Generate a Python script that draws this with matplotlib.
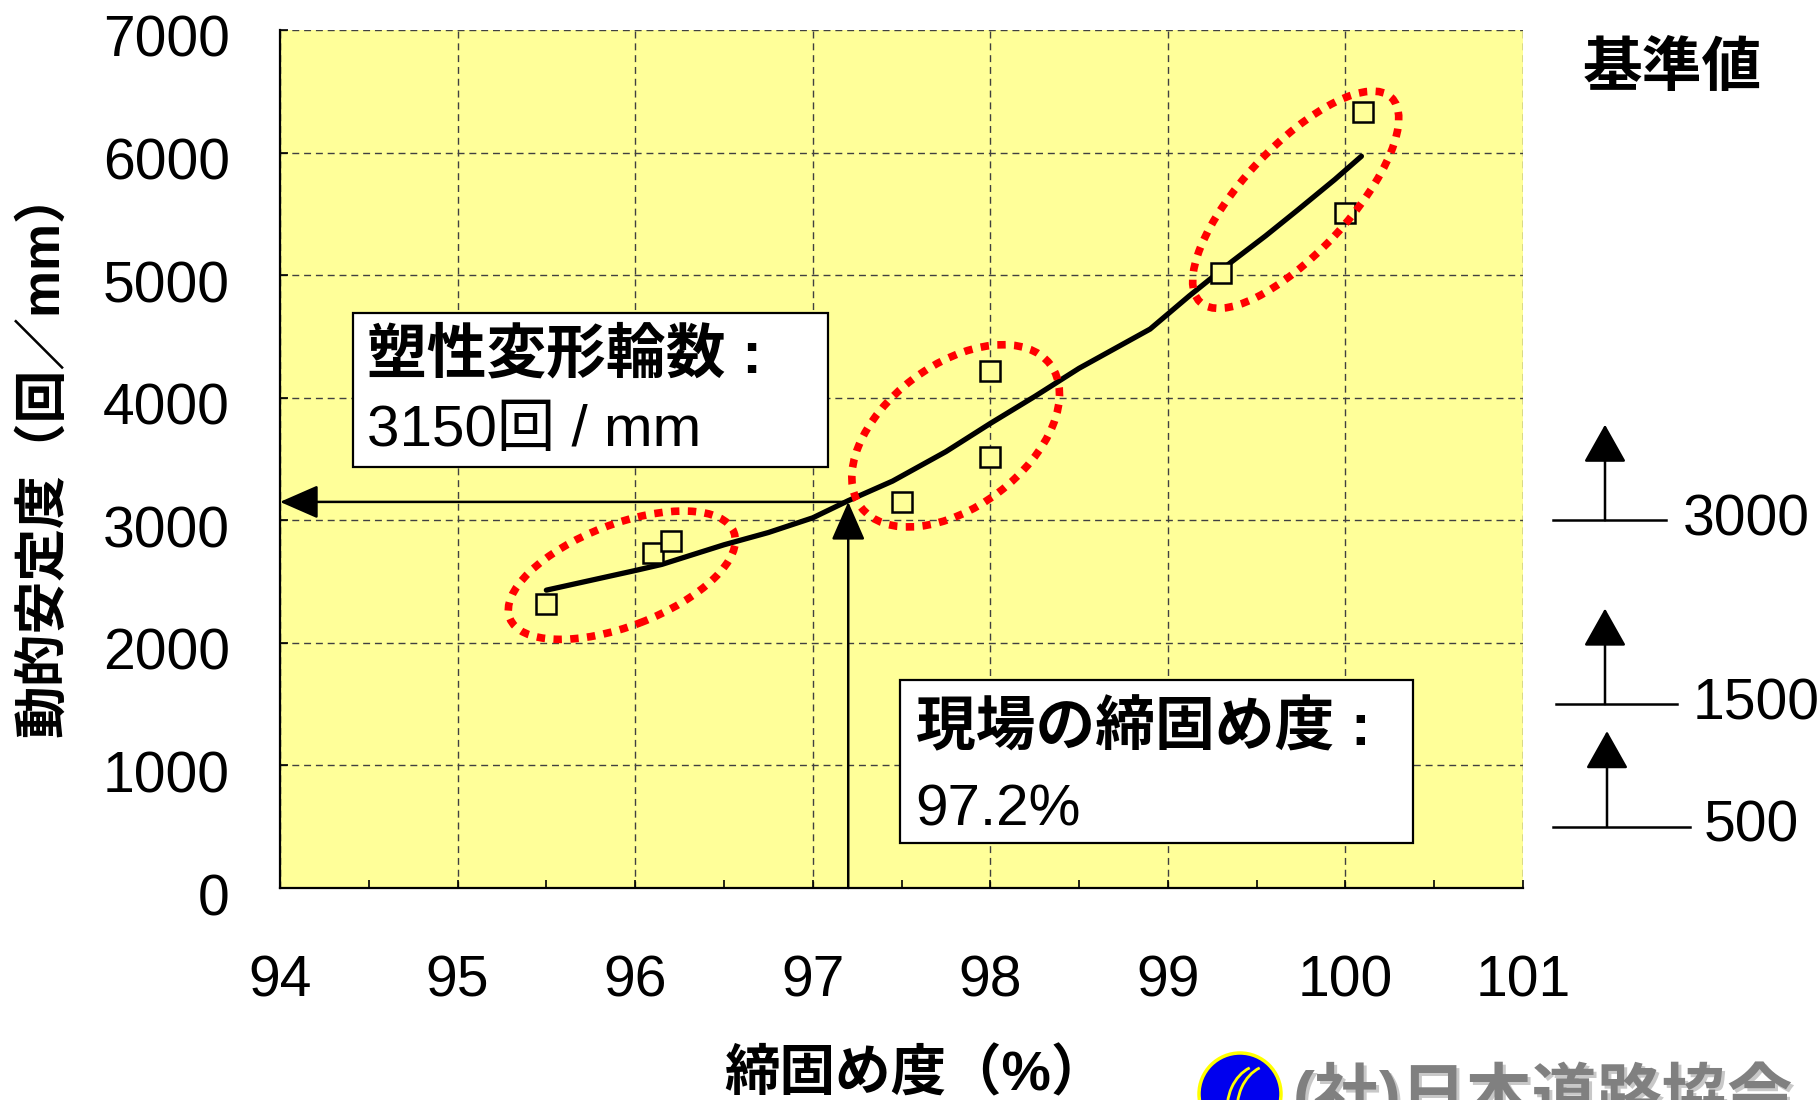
import numpy as np
import matplotlib
matplotlib.use("Agg")
import matplotlib.pyplot as plt
from matplotlib import patches, transforms
from matplotlib.lines import Line2D

plt.rcParams['font.family'] = ['Liberation Sans', 'Noto Sans CJK JP']

##### Data #####
compaction = [95.5, 96.1, 96.2, 97.5, 98.0, 98.0, 99.3, 100.0, 100.1]
stability = [2320, 2730, 2830, 3150, 3520, 4220, 5020, 5510, 6330]

trend_x = [95.5, 95.75, 96.0, 96.15, 96.5, 96.75, 97.0, 97.2, 97.45, 97.75, 98.0,
           98.25, 98.5, 98.75, 98.9, 99.12, 99.36, 99.55, 99.73, 99.94, 100.09]
trend_y = [2430, 2510, 2590, 2640, 2800, 2900, 3020, 3160, 3320, 3560, 3790,
           4010, 4240, 4440, 4560, 4830, 5110, 5320, 5530, 5780, 5970]

site_compaction = 97.2
site_stability = 3150

ref_values = [3000, 1500, 500]
ref_labels = ['3000', '1500', '500']

x_ticks = [94, 95, 96, 97, 98, 99, 100, 101]
y_ticks = [0, 1000, 2000, 3000, 4000, 5000, 6000, 7000]

# groups circled in red: centre (data), size in pixels, angle
group_centers = [(95.925, 2552), (97.805, 3689), (99.72, 5615)]
group_sizes = [(240, 102), (237, 142), (280, 106)]
group_angles = [21, 37, 47]

W, H = 1818, 1100
YELLOW = '#FFFF99'


def fx(px):
    return px / W


def fy(py):
    return 1 - py / H


fig = plt.figure(figsize=(W / 100, H / 100), dpi=100)
ax = fig.add_axes([fx(280), fy(888), (1523 - 280) / W, (888 - 30) / H])
ax.set_facecolor(YELLOW)
ax.set_xlim(94, 101)
ax.set_ylim(0, 7000)
ax.set_xticks(x_ticks)
ax.set_xticks(np.arange(94.5, 101, 1.0), minor=True)
ax.set_yticks(y_ticks)
ax.grid(True, which='major', color='#404040', lw=1, ls=(0, (5, 3.5)))
ax.set_axisbelow(True)
for s in ['top', 'right']:
    ax.spines[s].set_visible(False)
for s in ['left', 'bottom']:
    ax.spines[s].set_linewidth(1.6)
ax.tick_params(axis='both', direction='in', length=6, width=1.2)
ax.tick_params(axis='x', which='minor', direction='in', length=6, width=1.2)
ax.tick_params(axis='x', labelsize=41, pad=48)
ax.tick_params(axis='y', labelsize=41, pad=36)
# y tick labels sit a little below their ticks in the original
shift = transforms.ScaledTranslation(0, -6 / 100, fig.dpi_scale_trans)
for lab in ax.get_yticklabels():
    lab.set_transform(lab.get_transform() + shift)

# trend line and measured points
ax.plot(trend_x, trend_y, color='black', lw=3.8, solid_joinstyle='round',
        solid_capstyle='round', zorder=3)
ax.plot(compaction, stability, 's', ms=14, mfc=YELLOW, mec='black', mew=1.8,
        zorder=4)

# red dotted ellipses around groups
for (cx, cy), (w, h), a in zip(group_centers, group_sizes, group_angles):
    cpx = ax.transData.transform((cx, cy))
    e = patches.Ellipse(cpx, w, h, angle=a, transform=transforms.IdentityTransform(),
                        fill=False, edgecolor='#FF0000', lw=5.5,
                        ls=(0, (1.1, 1.1)), zorder=5)
    e.set_capstyle('butt')
    fig.add_artist(e)

# arrows from the site value
arrow_style = '-|>,head_length=0.8,head_width=0.35'
ax.annotate('', xy=(94, site_stability), xytext=(site_compaction, site_stability),
            arrowprops=dict(arrowstyle=arrow_style, color='black', lw=1.8,
                            shrinkA=0, shrinkB=0, mutation_scale=30), zorder=6)
ax.annotate('', xy=(site_compaction, site_stability), xytext=(site_compaction, 0),
            arrowprops=dict(arrowstyle=arrow_style, color='black', lw=1.8,
                            shrinkA=0, shrinkB=0, mutation_scale=30), zorder=6)

# annotation boxes
ax.add_patch(patches.Rectangle((94.411, 3431), 2.675, 1257, facecolor='white',
                               edgecolor='black', lw=1.6, zorder=7))
ax.text(94.49, 4337, '塑性変形輪数 :', fontsize=43, fontweight='bold',
        ha='left', va='center', zorder=8)
ax.text(94.49, 3725, '3150回 / mm', fontsize=42, ha='left', va='center', zorder=8)

ax.add_patch(patches.Rectangle((97.491, 368), 2.889, 1331, facecolor='white',
                               edgecolor='black', lw=1.6, zorder=7))
ax.text(97.58, 1299, '現場の締固め度 :', fontsize=43, fontweight='bold',
        ha='left', va='center', zorder=8)
ax.text(97.58, 629, '97.2%', fontsize=42, ha='left', va='center', zorder=8)

# axis labels
fig.text(fx(915), fy(1090), '締固め度（%）', fontsize=40, fontweight='bold',
         ha='center', va='baseline')
fig.text(fx(44), fy(453), '動的安定度（回／mm）', fontsize=38, fontweight='bold',
         rotation=90, ha='center', va='center')

# reference values on the right
fig.text(fx(1672), fy(70), '基準値', fontsize=43, fontweight='bold',
         ha='center', va='center')
blend = transforms.blended_transform_factory(fig.transFigure, ax.transData)
line_x = [(1553, 1666), (1556, 1677), (1553, 1690)]
arrow_x = [1605, 1605, 1607]
label_x = [1683, 1693, 1704]
for v, lab, (x0, x1), axp, lx in zip(ref_values, ref_labels, line_x, arrow_x, label_x):
    fig.add_artist(Line2D([fx(x0), fx(x1)], [v, v], transform=blend,
                          color='black', lw=1.8))
    ax.annotate('', xy=(fx(axp), v + 780), xytext=(fx(axp), v),
                xycoords=blend, textcoords=blend, annotation_clip=False,
                arrowprops=dict(arrowstyle='-|>,head_length=0.8,head_width=0.45',
                                color='black', lw=1.8, shrinkA=0, shrinkB=0,
                                mutation_scale=30))
    ax.text(fx(lx), v, lab, transform=blend, fontsize=41, ha='left',
            va='center', clip_on=False)

# society logo at the bottom (cut off by the edge)
fig.add_artist(patches.Ellipse((fx(1240), fy(1094)), 82 / W, 82 / H,
                               transform=fig.transFigure, facecolor='#0000EE',
                               edgecolor='#FFFF00', lw=2.5))
for k in [0, 1]:
    fig.add_artist(patches.Arc((fx(1262 + 10 * k), fy(1110)), 70 / W, 90 / H,
                               theta1=100, theta2=200, transform=fig.transFigure,
                               color='#FFFF00', lw=2))
fig.text(fx(1296), fy(1120), '(社)日本道路協会', fontsize=47, fontweight='bold',
         color='#C8C8C8', ha='left', va='baseline')
fig.text(fx(1293), fy(1117), '(社)日本道路協会', fontsize=47, fontweight='bold',
         color='#808080', ha='left', va='baseline')

fig.savefig('out.png', dpi=100)
